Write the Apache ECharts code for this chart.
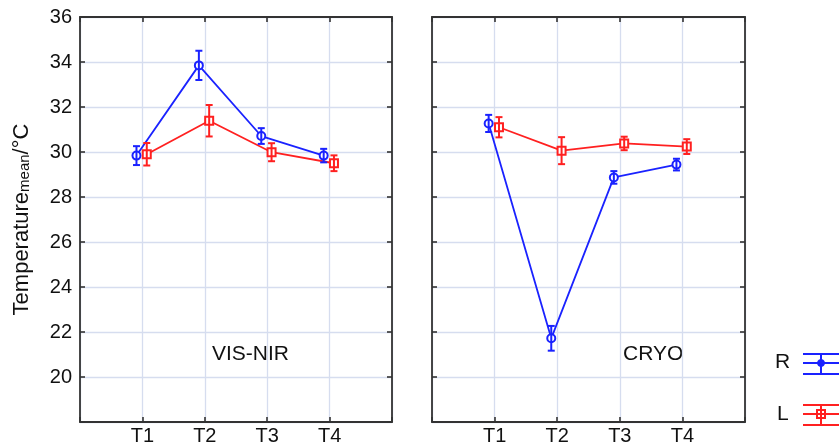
<!DOCTYPE html>
<html>
<head>
<meta charset="utf-8">
<script src="https://cdn.jsdelivr.net/npm/echarts@6/dist/echarts.min.js"></script>
<style>
  html, body { margin: 0; padding: 0; background: #fff; }
  #main { width: 839px; height: 446px; }
</style>
</head>
<body>
<div id="main"></div>
<script>
// 类别与数值
var categories = ['T1', 'T2', 'T3', 'T4'];
var yTicks = [18, 20, 22, 24, 26, 28, 30, 32, 34, 36];

var visR = [29.84, 33.85, 30.71, 29.84];
var visRErr = [0.42, 0.65, 0.35, 0.3];
var visL = [29.9, 31.39, 29.99, 29.5];
var visLErr = [0.5, 0.7, 0.4, 0.35];

var cryoR = [31.27, 21.72, 28.87, 29.44];
var cryoRErr = [0.38, 0.55, 0.28, 0.26];
var cryoL = [31.1, 30.06, 30.38, 30.24];
var cryoLErr = [0.45, 0.6, 0.3, 0.33];

var BLUE = '#1a22ff';
var RED = '#ff2020';
var FONT = 'Liberation Sans, Arial, sans-serif';

var myChart = echarts.init(document.getElementById('main'));

// 类别 i 放在数值轴的 i+1 处，左右各留一格
function pts(vals, shift) {
  return vals.map(function (v, i) { return [i + 1 + shift, v]; });
}
function errPts(vals, errs, shift) {
  return vals.map(function (v, i) { return [i + 1 + shift, v - errs[i], v + errs[i]]; });
}

function errorBar(color) {
  return function (params, api) {
    var x = api.value(0);
    var lo = api.coord([x, api.value(1)]);
    var hi = api.coord([x, api.value(2)]);
    var w = 3.5;
    var st = { stroke: color, lineWidth: 2 };
    return {
      type: 'group',
      children: [
        { type: 'line', shape: { x1: lo[0], y1: lo[1], x2: hi[0], y2: hi[1] }, style: st },
        { type: 'line', shape: { x1: lo[0] - w, y1: lo[1], x2: lo[0] + w, y2: lo[1] }, style: st },
        { type: 'line', shape: { x1: hi[0] - w, y1: hi[1], x2: hi[0] + w, y2: hi[1] }, style: st }
      ]
    };
  };
}

var gridLine = { show: true, lineStyle: { color: '#d6ddef', width: 1.3 } };
var tickIn = { show: true, inside: true, length: 5, lineStyle: { color: '#333', width: 1.6 } };
var frame = { show: true, onZero: false, lineStyle: { color: '#333', width: 1.8 } };

function xAxes(gi) {
  return [{
    type: 'value', gridIndex: gi, min: 0, max: 5, interval: 1, position: 'bottom',
    axisLine: frame, axisTick: tickIn, splitLine: gridLine,
    axisLabel: {
      fontSize: 20, color: '#111', fontFamily: FONT, margin: 4,
      formatter: function (v) { return categories[v - 1] || ''; }
    }
  }, {
    type: 'value', gridIndex: gi, min: 0, max: 5, interval: 1, position: 'top',
    axisLine: frame, axisTick: tickIn, splitLine: { show: false }, axisLabel: { show: false }
  }];
}

function yAxes(gi, withLabels) {
  var left = {
    type: 'value', gridIndex: gi, min: yTicks[0], max: yTicks[yTicks.length - 1], interval: 2,
    position: 'left',
    axisLine: frame, axisTick: tickIn, splitLine: gridLine,
    axisLabel: {
      show: withLabels, fontSize: 20, color: '#111', fontFamily: FONT, margin: 8,
      formatter: function (v) { return v === yTicks[0] ? '' : String(v); }
    }
  };
  if (withLabels) {
    left.name = '{a|Temperature}{b|mean}{a|/°C}';
    left.nameLocation = 'middle';
    left.nameRotate = 90;
    left.nameGap = 41;
    left.nameTextStyle = {
      color: '#111', fontFamily: FONT,
      rich: {
        a: { fontSize: 22, fontFamily: FONT, color: '#111', padding: [0, 0, 6, 0] },
        b: { fontSize: 15, fontFamily: FONT, color: '#111' }
      }
    };
  }
  var right = {
    type: 'value', gridIndex: gi, min: yTicks[0], max: yTicks[yTicks.length - 1], interval: 2,
    position: 'right',
    axisLine: frame, axisTick: tickIn, splitLine: { show: false }, axisLabel: { show: false }
  };
  return [left, right];
}

function meanLine(name, data, color, symbol, axisIdx) {
  return {
    name: name, type: 'line', data: data,
    xAxisIndex: axisIdx * 2, yAxisIndex: axisIdx * 2,
    symbol: symbol, symbolSize: 8, showSymbol: true,
    lineStyle: { color: color, width: 1.8 },
    itemStyle: { color: color, borderColor: color, borderWidth: 1.8 },
    z: 3
  };
}
function errSeries(data, color, axisIdx) {
  return {
    type: 'custom', data: data,
    xAxisIndex: axisIdx * 2, yAxisIndex: axisIdx * 2,
    renderItem: errorBar(color),
    encode: { x: 0, y: [1, 2] },
    z: 4
  };
}

var SB = -0.095, SR = 0.07;

// 图例（手绘误差线样式）
function legendIcon(y, color, marker) {
  var st = { stroke: color, lineWidth: 2 };
  var kids = [
    { type: 'line', shape: { x1: 803, y1: y - 9, x2: 839, y2: y - 9 }, style: st },
    { type: 'line', shape: { x1: 803, y1: y, x2: 839, y2: y }, style: st },
    { type: 'line', shape: { x1: 803, y1: y + 11, x2: 839, y2: y + 11 }, style: st },
    { type: 'line', shape: { x1: 821, y1: y - 9, x2: 821, y2: y + 11 }, style: st }
  ];
  if (marker === 'circle') {
    kids.push({ type: 'circle', shape: { cx: 821, cy: y, r: 3.5 }, style: { fill: color, stroke: color } });
  } else {
    kids.push({ type: 'rect', shape: { x: 817, y: y - 4, width: 8, height: 8 }, style: { fill: 'none', stroke: color, lineWidth: 2 } });
  }
  return kids;
}

var option = {
  backgroundColor: '#fff',
  animation: false,
  grid: [
    { left: 80, top: 17, width: 312, height: 405, show: false },
    { left: 432, top: 17, width: 313, height: 405, show: false }
  ],
  xAxis: xAxes(0).concat(xAxes(1)),
  yAxis: yAxes(0, true).concat(yAxes(1, false)),
  series: [
    meanLine('R', pts(visR, SB), BLUE, 'emptyCircle', 0),
    meanLine('L', pts(visL, SR), RED, 'emptyRect', 0),
    errSeries(errPts(visR, visRErr, SB), BLUE, 0),
    errSeries(errPts(visL, visLErr, SR), RED, 0),
    meanLine('R', pts(cryoR, SB), BLUE, 'emptyCircle', 1),
    meanLine('L', pts(cryoL, SR), RED, 'emptyRect', 1),
    errSeries(errPts(cryoR, cryoRErr, SB), BLUE, 1),
    errSeries(errPts(cryoL, cryoLErr, SR), RED, 1)
  ],
  graphic: [
    { type: 'text', left: 212, top: 344, style: { text: 'VIS-NIR', fontSize: 21, fontFamily: FONT, fill: '#111' } },
    { type: 'text', left: 623, top: 344, style: { text: 'CRYO', fontSize: 21, fontFamily: FONT, fill: '#111' } },
    { type: 'text', x: 775, y: 352, style: { text: 'R', fontSize: 21, fontFamily: FONT, fill: '#111' } },
    { type: 'text', x: 777, y: 404, style: { text: 'L', fontSize: 21, fontFamily: FONT, fill: '#111' } },
    { type: 'group', children: legendIcon(363, BLUE, 'circle') },
    { type: 'group', children: legendIcon(414, RED, 'rect') }
  ]
};

myChart.setOption(option);
</script>
</body>
</html>
